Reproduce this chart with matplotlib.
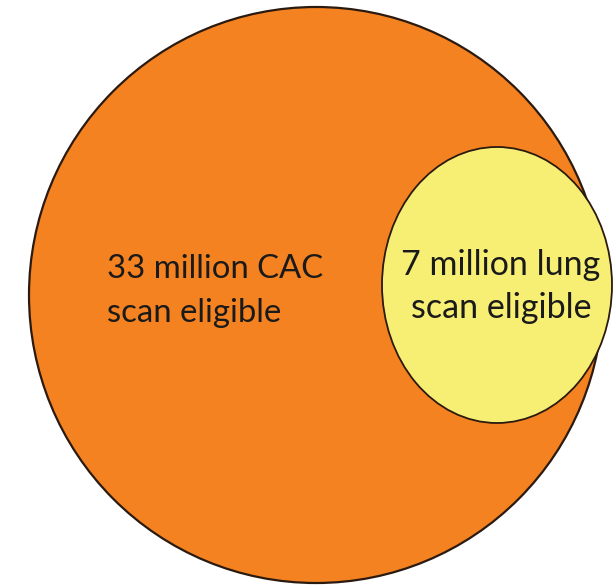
import matplotlib.pyplot as plt
from matplotlib.patches import Ellipse

# populations in millions
groups = ['CAC scan eligible', 'lung scan eligible']
counts_millions = [33, 7]

fill_colors = ['#f58220', '#f7ee74']

# geometry in pixel coordinates (image space, y down)
outer_center, outer_w, outer_h = (316, 295), 574, 576
inner_center, inner_w, inner_h = (497, 285), 230, 276

fig = plt.figure(figsize=(6.13, 5.86), dpi=100)
ax = fig.add_axes([0, 0, 1, 1])
ax.set_xlim(0, 613)
ax.set_ylim(586, 0)
ax.axis('off')

ax.add_patch(Ellipse(outer_center, outer_w, outer_h, facecolor=fill_colors[0],
                     edgecolor='#2b1a10', linewidth=1.6))
ax.add_patch(Ellipse(inner_center, inner_w, inner_h, facecolor=fill_colors[1],
                     edgecolor='#2b1a10', linewidth=1.3))

# labels, one text per line so the baselines sit where the reference has them
big_lines = ['%d million CAC' % counts_millions[0], 'scan eligible']
small_lines = ['%d million lung' % counts_millions[1], 'scan eligible']

for line, y in zip(big_lines, [278, 322]):
    ax.text(107, y, line, fontsize=23.7, family='Lato', color='#1a1a1a',
            ha='left', va='baseline')
for line, y in zip(small_lines, [275, 318]):
    ax.text(501, y, line, fontsize=24.5, family='Lato', color='#1a1a1a',
            ha='center', va='baseline')

fig.savefig('out.png', dpi=100)
